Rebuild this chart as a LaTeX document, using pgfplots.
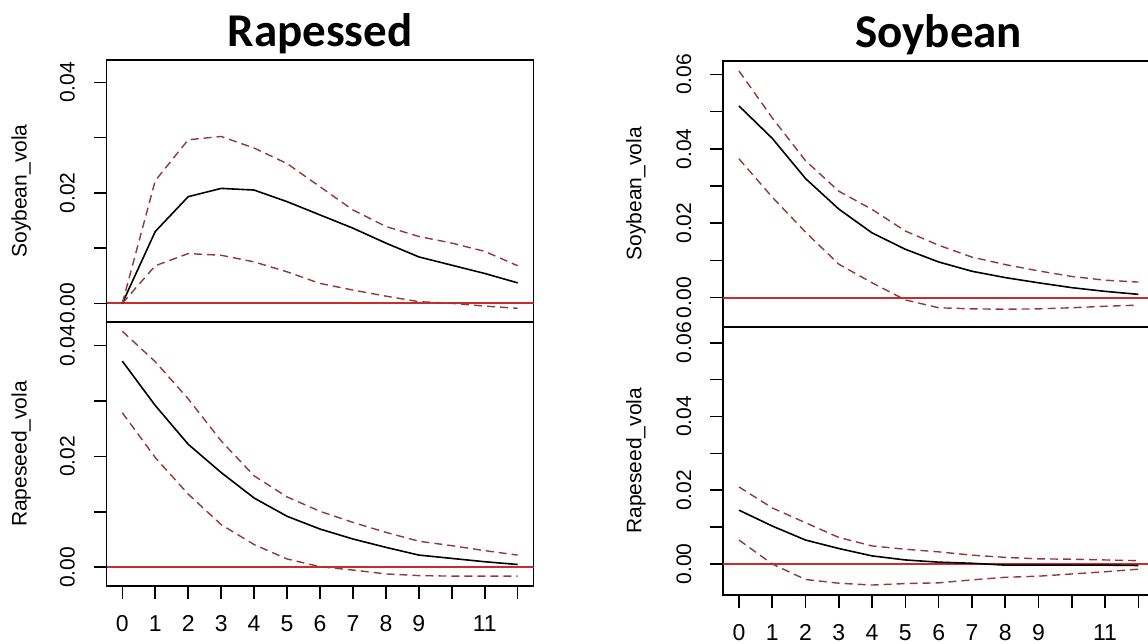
\documentclass[border=0pt]{standalone}
\usepackage{fontspec}
\setmainfont{Liberation Sans}
\newfontfamily\titlefont{Carlito}
\usepackage{pgfplots}
\usepackage{pgfplotstable}
\pgfplotsset{compat=1.18}

\definecolor{cired}{RGB}{150,55,55}
\definecolor{zerored}{RGB}{200,45,45}

% impulse responses: horizon, point estimate, lower band, upper band
\pgfplotstableread{
h irf lo up
0 0.0000 0.0000 0.0000
1 0.0130 0.0068 0.0222
2 0.0193 0.0090 0.0296
3 0.0208 0.0087 0.0302
4 0.0205 0.0075 0.0281
5 0.0184 0.0057 0.0253
6 0.0160 0.0036 0.0211
7 0.0136 0.0024 0.0169
8 0.0109 0.0013 0.0139
9 0.0084 0.0003 0.0121
10 0.0069 0.0000 0.0109
11 0.0054 -0.0005 0.0094
12 0.0037 -0.0009 0.0068
}\rapsoy
\pgfplotstableread{
h irf lo up
0 0.0372 0.0279 0.0426
1 0.0292 0.0198 0.0371
2 0.0222 0.0132 0.0304
3 0.0171 0.0077 0.0228
4 0.0125 0.0041 0.0165
5 0.0092 0.0015 0.0127
6 0.0069 0.0001 0.0101
7 0.0051 -0.0005 0.0081
8 0.0036 -0.0012 0.0063
9 0.0022 -0.0015 0.0047
10 0.0016 -0.0016 0.0039
11 0.0010 -0.0016 0.0030
12 0.0005 -0.0016 0.0022
}\raprap
\pgfplotstableread{
h irf lo up
0 0.0515 0.0373 0.0609
1 0.0428 0.0270 0.0483
2 0.0320 0.0176 0.0368
3 0.0238 0.0090 0.0286
4 0.0174 0.0040 0.0237
5 0.0130 -0.0006 0.0179
6 0.0096 -0.0027 0.0141
7 0.0071 -0.0030 0.0109
8 0.0054 -0.0031 0.0089
9 0.0040 -0.0030 0.0072
10 0.0027 -0.0027 0.0057
11 0.0017 -0.0023 0.0047
12 0.0009 -0.0020 0.0042
}\soysoy
\pgfplotstableread{
h irf lo up
0 0.0146 0.0065 0.0209
1 0.0103 0.0000 0.0152
2 0.0065 -0.0042 0.0112
3 0.0042 -0.0052 0.0072
4 0.0022 -0.0057 0.0049
5 0.0011 -0.0053 0.0040
6 0.0005 -0.0051 0.0033
7 0.0002 -0.0043 0.0024
8 -0.0003 -0.0036 0.0018
9 -0.0003 -0.0033 0.0014
10 -0.0003 -0.0027 0.0013
11 -0.0003 -0.0021 0.0011
12 -0.0004 -0.0014 0.0009
}\soyrap

\pgfplotsset{
  irfpanel/.style={
    scale only axis,
    xmin=-0.48, xmax=12.48,
    axis line style={line width=1.8bp},
    tick pos=left,
    tick align=outside,
    major tick length=13bp,
    every tick/.style={black, line width=1.6bp},
    scaled y ticks=false,
    yticklabel style={rotate=90, anchor=south, inner sep=0pt,
      font=\fontsize{21bp}{24bp}\selectfont},
    yticklabel shift=18.5bp,
    xticklabel style={anchor=north, inner sep=0pt,
      font=\fontsize{23bp}{26bp}\selectfont},
    xticklabel shift=16bp,
    every axis y label/.style={at={(axis description cs:-0.2,0.5)}, rotate=90, anchor=center,
      font=\fontsize{21bp}{24bp}\selectfont},
    every axis title/.style={at={(axis description cs:0.5,1)}, anchor=base, yshift=13bp,
      inner sep=0pt, font=\titlefont\bfseries\fontsize{47bp}{54bp}\selectfont},
  },
  upperpanel/.style={irfpanel, xtick=\empty},
  lowerpanel/.style={irfpanel, xtick={0,...,12},
    xticklabels={0,1,2,3,4,5,6,7,8,9,,11,}},
  leftrange/.style={ytick={0,0.01,0.02,0.03,0.04},
    yticklabels={0.00,,0.02,,0.04}},
  rightrange/.style={ytick={0,0.01,0.02,0.03,0.04,0.05,0.06},
    yticklabels={0.00,,0.02,,0.04,,0.06}},
  irfline/.style={black, line width=1.6bp},
  ciline/.style={cired, line width=1.4bp, dash pattern=on 8bp off 5bp},
  zeroline/.style={zerored, line width=1.8bp},
}

\begin{document}
\begin{tikzpicture}
\useasboundingbox (0,0) rectangle (1148bp,644bp);
\clip (0,0) rectangle (1148bp,644bp);

% Rapeseed impulse
\begin{axis}[upperpanel, leftrange, at={(106.5bp,322bp)}, anchor=south west,
  width=427bp, height=262bp, ymin=-0.00338, ymax=0.04404,
  ylabel={Soybean\_vola}, title={Rapessed}]
  \addplot[zeroline] coordinates {(-0.48,0) (12.48,0)};
  \addplot[irfline] table[x=h, y=irf] {\rapsoy};
  \addplot[ciline] table[x=h, y=lo] {\rapsoy};
  \addplot[ciline] table[x=h, y=up] {\rapsoy};
\end{axis}
\begin{axis}[lowerpanel, leftrange, at={(106.5bp,58bp)}, anchor=south west,
  width=427bp, height=264bp, ymin=-0.00338, ymax=0.04427,
  ylabel={Rapeseed\_vola}]
  \addplot[zeroline] coordinates {(-0.48,0) (12.48,0)};
  \addplot[irfline] table[x=h, y=irf] {\raprap};
  \addplot[ciline] table[x=h, y=lo] {\raprap};
  \addplot[ciline] table[x=h, y=up] {\raprap};
\end{axis}

% Soybean impulse
\begin{axis}[upperpanel, rightrange, at={(723bp,317.3bp)}, anchor=south west,
  width=431.3bp, height=265.7bp, ymin=-0.00779, ymax=0.06358,
  every axis y label/.append style={at={(axis description cs:-0.2017,0.5)}},
  ylabel={Soybean\_vola}, title={Soybean}]
  \addplot[zeroline] coordinates {(-0.48,0) (12.48,0)};
  \addplot[irfline] table[x=h, y=irf] {\soysoy};
  \addplot[ciline] table[x=h, y=lo] {\soysoy};
  \addplot[ciline] table[x=h, y=up] {\soysoy};
\end{axis}
\begin{axis}[lowerpanel, rightrange, at={(723bp,49bp)}, anchor=south west,
  width=431.3bp, height=268.3bp, ymin=-0.0084, ymax=0.06434,
  every axis y label/.append style={at={(axis description cs:-0.2017,0.5)}},
  ylabel={Rapeseed\_vola}]
  \addplot[zeroline] coordinates {(-0.48,0) (12.48,0)};
  \addplot[irfline] table[x=h, y=irf] {\soyrap};
  \addplot[ciline] table[x=h, y=lo] {\soyrap};
  \addplot[ciline] table[x=h, y=up] {\soyrap};
\end{axis}
\end{tikzpicture}
\end{document}
